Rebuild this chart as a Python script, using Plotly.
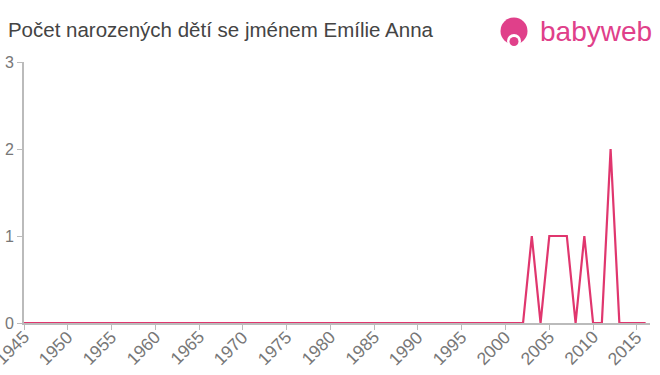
import plotly.graph_objects as go

years = list(range(1945, 2017))
counts_nonzero = {2003: 1, 2005: 1, 2006: 1, 2007: 1, 2009: 1, 2012: 2}
counts = [counts_nonzero.get(y, 0) for y in years]
x_ticks = list(range(1945, 2016, 5))
y_ticks = [0, 1, 2, 3]

L, R, T, B, W, H = 24, 10, 62, 52, 660, 375
PW, PH = W - L - R, H - T - B


def px(x):
    return (x - L) / PW


def py(y):
    return (H - B - y) / PH


fig = go.Figure()
fig.add_trace(go.Scatter(x=years, y=counts, mode="lines",
                         line=dict(color="#e0366e", width=2.2), hoverinfo="x+y", cliponaxis=False))

axis_style = dict(showgrid=False, zeroline=False, showline=True, linecolor="#bbbbbb",
                  linewidth=2, ticks="outside", tickcolor="#bbbbbb", ticklen=5, tickwidth=1,
                  automargin=False,
                  tickfont=dict(family="Liberation Sans, Arial", size=16, color="#777777"))
fig.update_xaxes(range=[1945, 2016.5], tickvals=x_ticks, showticklabels=False, **axis_style)
fig.update_yaxes(range=[0, 3], tickvals=y_ticks, ticktext=[str(v) for v in y_ticks], **axis_style)

fig.update_layout(
    width=W, height=H, margin=dict(l=L, r=R, t=T, b=B),
    plot_bgcolor="white", paper_bgcolor="white", showlegend=False,
    title=dict(text="Počet narozených dětí se jménem Emílie Anna", x=0.012, xanchor="left",
               y=0.92, yanchor="middle",
               font=dict(family="Liberation Sans, Arial", size=20.5, color="#444444")),
)
# rotated x tick labels
for v in x_ticks:
    fig.add_annotation(text=str(v), xref="x", yref="paper", x=v, y=0, xshift=-12, yshift=-25,
                       xanchor="center", yanchor="middle", textangle=-45, showarrow=False,
                       font=dict(family="Liberation Sans, Arial", size=17.5, color="#777777"))
# logo
pink = "#e0408a"
for cx, cy, r, col in [(514, 31, 13.5, pink), (514, 41, 7, "white"), (514, 41.5, 4.5, pink)]:
    fig.add_shape(type="circle", xref="paper", yref="paper",
                  x0=px(cx - r), x1=px(cx + r), y0=py(cy + r), y1=py(cy - r),
                  fillcolor=col, line=dict(width=0))
fig.add_annotation(text="babyweb", xref="paper", yref="paper", x=px(538),
                   y=py(32), xanchor="left", yanchor="middle", showarrow=False,
                   font=dict(family="Liberation Sans, Arial", size=28, color=pink))

fig.write_html("out.html")
